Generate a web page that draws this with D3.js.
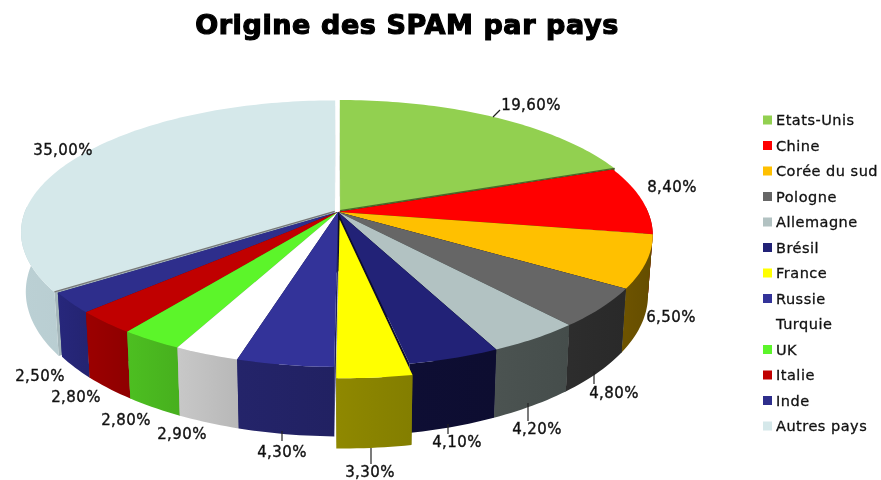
<!DOCTYPE html>
<html lang="fr">
<head>
<meta charset="utf-8">
<style>
html,body{margin:0;padding:0;background:#fff}
svg{display:block;filter:blur(0.35px)}
text{font-family:"DejaVu Sans",Verdana,sans-serif;fill:#111}
</style>
</head>
<body>
<svg id="c" width="881" height="480"></svg>
<script src="https://cdn.jsdelivr.net/npm/d3@7/dist/d3.min.js"></script>
<script>
const titleText = "Origine des SPAM par pays";
const categories = ["Etats-Unis","Chine","Corée du sud","Pologne","Allemagne","Brésil","France","Russie","Turquie","UK","Italie","Inde","Autres pays"];
const values = [19.6,8.4,6.5,4.8,4.2,4.1,3.3,4.3,2.9,2.8,2.8,2.5,35.0];
const valueLabels = ["19,60%","8,40%","6,50%","4,80%","4,20%","4,10%","3,30%","4,30%","2,90%","2,80%","2,80%","2,50%","35,00%"];
const topColors = ["#92d050","#ff0000","#ffc000","#666666","#b2c2c2","#222277","#ffff00","#333399","#ffffff","#5cf52a","#c00000","#2e2e8c","#d5e8ea"];
const sideColors = ["#4a6a2a","#a00000","#6b5200","#2c2c2c","#4a5250","#0e0e33","#8c8600","#232368","#c4c4c4","#4cbc20","#990000","#26267a","#b8ccd0"];
const explode = [0.012,0,0,0,0,0,0.06,0,0,0,0,0,0.012];
const labelPos = [[531,105],[672,187],[671,317],[614,393],[537,429],[457,442],[370,472],[282,452],[182,434],[126,420],[76,397],[40,376],[63,150]];
const leaders = [[[493,117],[500,110]],null,null,[[594,371],[594,384]],[[528,403],[528,421]],[[448,424],[448,434]],[[371,448],[371,464]],[[282,431],[282,441]],null,null,null,null,null];

const svg = d3.select("#c");
const cx = 338, cy = 212, k = 0.165, Rx = 310, Ry = 129.4, wallH = 58, skewK = 0.02;
const sx = d3.scaleLinear().domain([-1,1]).range([cx-Rx, cx+Rx]);
const sy = d3.scaleLinear().domain([-1,1]).range([cy-Ry, cy+Ry]);

function project(X, Y, d){
  const w = 1 - k*Y;
  const x0 = sx(X/w), y0 = sy(Y/w);
  const skew = skewK*Math.max(0, y0-cy);
  const shrink = 1 - 0.015*d;
  return [cx + (x0-cx)*shrink + skew, y0 + d*wallH/w];
}

const pie = d3.pie().value(d=>d).sort(null)(values);
const arcs = pie.map((p,i)=>{
  const mid = (p.startAngle+p.endAngle)/2;
  const ox = explode[i]*Math.sin(mid), oy = -explode[i]*Math.cos(mid);
  const n = Math.max(4, Math.ceil((p.endAngle-p.startAngle)/0.02));
  const rim = d3.range(n+1).map(j=>{
    const a = p.startAngle + (p.endAngle-p.startAngle)*j/n;
    return [ox+Math.sin(a), oy-Math.cos(a)];
  });
  return {i, mid, rim, apex:[ox,oy], depth:-Math.cos(mid)};
}).sort((a,b)=>a.depth-b.depth);

const defs = svg.append("defs");
const line = d3.line();
const upper = P=>project(P[0],P[1],0), lower = P=>project(P[0],P[1],1);

arcs.forEach(s=>{
  const g = svg.append("g").attr("class","slice");
  const c = sideColors[s.i];
  const gid = "w"+s.i;
  const xs = s.rim.map(p=>upper(p)[0]);
  const grad = defs.append("linearGradient").attr("id",gid).attr("gradientUnits","userSpaceOnUse")
    .attr("x1",d3.min(xs)).attr("x2",d3.max(xs)).attr("y1",0).attr("y2",0);
  grad.append("stop").attr("offset",0).attr("stop-color",d3.color(c).brighter(0.05));
  grad.append("stop").attr("offset",1).attr("stop-color",d3.color(c).darker(0.18));
  [s.rim[0], s.rim[s.rim.length-1]].forEach(p=>{
    g.append("path").attr("fill",d3.color(c).darker(0.3))
      .attr("d",line([upper(s.apex),upper(p),lower(p),lower(s.apex)])+"Z");
  });
  const frontRim = s.rim.filter(p=>p[1]>-0.05);
  if(frontRim.length>1){
    g.append("path").attr("fill",`url(#${gid})`)
      .attr("d",line(frontRim.map(upper).concat(frontRim.slice().reverse().map(lower)))+"Z");
  }
  g.append("path").attr("fill",topColors[s.i])
    .attr("d",line([upper(s.apex)].concat(s.rim.map(upper)))+"Z");
});

// thin visible edges under the two pulled-out back slices
arcs.filter(s=>s.i===0||s.i===12).forEach(s=>{
  const p = s.i===0 ? s.rim[s.rim.length-1] : s.rim[0];
  svg.append("path").attr("d",line([upper(s.apex),upper(p)])).attr("fill","none")
    .attr("stroke",s.i===0?"#4a6a2a":"#777777").attr("stroke-width",1.3);
});

leaders.forEach(l=>{ if(l) svg.append("path").attr("d",line(l)).attr("stroke","#222").attr("stroke-width",1.2).attr("fill","none"); });

svg.append("g").selectAll("text").data(valueLabels).join("text")
  .attr("x",(d,i)=>labelPos[i][0]).attr("y",(d,i)=>labelPos[i][1]+5)
  .attr("text-anchor","middle").attr("font-size",15).attr("letter-spacing",0.4).attr("stroke","#111").attr("stroke-width",0.35).text(d=>d);

svg.append("text").attr("x",407).attr("y",34).attr("text-anchor","middle")
  .attr("font-size",27).attr("letter-spacing",0.6).attr("font-weight","bold").attr("stroke","#000").attr("stroke-width",1.2).style("fill","#000").text(titleText);

const ly = d3.scalePoint().domain(categories).range([120,426]);
const lg = svg.append("g").selectAll("g").data(categories).join("g").attr("transform",d=>`translate(763,${ly(d)})`);
lg.append("rect").attr("x",0).attr("y",-4.5).attr("width",9).attr("height",9).attr("fill",(d,i)=>topColors[i]);
lg.append("text").attr("x",13).attr("y",5).attr("font-size",14.5).attr("letter-spacing",0.5).attr("stroke","#111").attr("stroke-width",0.3).text(d=>d);
</script>
</body>
</html>
